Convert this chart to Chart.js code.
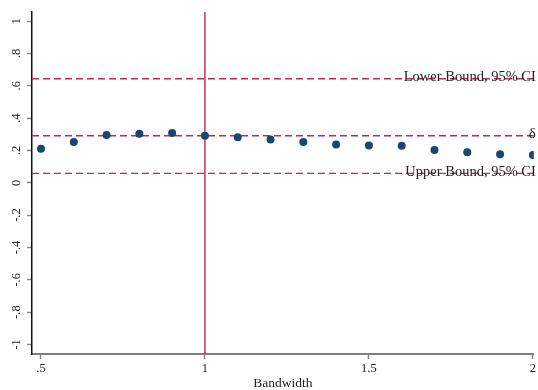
<!DOCTYPE html>
<html>
<head>
<meta charset="utf-8">
<script src="https://cdn.jsdelivr.net/npm/chart.js@4.4.0/dist/chart.umd.min.js"></script>
<style>
html,body{margin:0;padding:0;background:#fff;}
#c{display:block;}
</style>
</head>
<body>
<canvas id="c" width="538" height="390"></canvas>
<script>
const bandwidth = [0.5,0.6,0.7,0.8,0.9,1.0,1.1,1.2,1.3,1.4,1.5,1.6,1.7,1.8,1.9,2.0];
const estimate  = [0.210,0.252,0.295,0.303,0.307,0.291,0.281,0.268,0.252,0.237,0.231,0.229,0.202,0.188,0.177,0.171];
const lowerBound = 0.643;
const deltaValue = 0.291;
const upperBound = 0.058;
const cutoff = 1;
const yTicks = [-1,-0.8,-0.6,-0.4,-0.2,0,0.2,0.4,0.6,0.8,1];
const yTickLabels = ['-1','-.8','-.6','-.4','-.2','0','.2','.4','.6','.8','1'];
const xTicks = [0.5,1,1.5,2];
const xTickLabels = ['.5','1','1.5','2'];
const refLabels = [
  {value: lowerBound, text: 'Lower Bound, 95% CI', size: 14.5},
  {value: deltaValue, text: 'δ', size: 15},
  {value: upperBound, text: 'Upper Bound, 95% CI', size: 14.5}
];
const xMin = 0.4726, xMax = 2.003, yMin = -1.059, yMax = 1.056;

const RED = '#c8244f';
const NAVY = '#1a476f';
const SERIF = '"Liberation Serif", "DejaVu Serif", serif';

function hline(v){ return [{x:xMin,y:v},{x:xMax,y:v}]; }

const labelPlugin = {
  id: 'labelPlugin',
  afterDraw(chart){
    const ctx = chart.ctx;
    const ys = chart.scales.y;
    const area = chart.chartArea;
    ctx.save();
    ctx.fillStyle = '#222';
    // rotated y tick labels
    ctx.font = '12.5px ' + SERIF;
    ctx.textAlign = 'center';
    ctx.textBaseline = 'alphabetic';
    yTicks.forEach((v,i)=>{
      const py = ys.getPixelForValue(v);
      ctx.save();
      ctx.translate(20, py);
      ctx.rotate(-Math.PI/2);
      ctx.fillText(yTickLabels[i], 0, 0);
      ctx.restore();
    });
    // reference line labels
    ctx.textAlign = 'right';
    refLabels.forEach(r=>{
      ctx.font = r.size + 'px ' + SERIF;
      const py = ys.getPixelForValue(r.value);
      ctx.fillText(r.text, area.right + 2, py + 2.5);
    });
    // x axis title
    ctx.font = '13.5px ' + SERIF;
    ctx.textAlign = 'center';
    ctx.fillText('Bandwidth', (area.left + area.right)/2, 387);
    ctx.restore();
  }
};

new Chart(document.getElementById('c'), {
  type: 'scatter',
  data: {
    datasets: [
      {data: bandwidth.map((b,i)=>({x:b,y:estimate[i]})), backgroundColor: NAVY, borderColor: NAVY,
       pointRadius: 4, pointBorderWidth: 0, order: 0},
      {data: hline(lowerBound), showLine: true, borderColor: RED, borderWidth: 1.4, borderDash: [7,4], pointRadius: 0, order: 1},
      {data: hline(deltaValue), showLine: true, borderColor: RED, borderWidth: 1.4, borderDash: [7,4], pointRadius: 0, order: 1},
      {data: hline(upperBound), showLine: true, borderColor: RED, borderWidth: 1.4, borderDash: [7,4], pointRadius: 0, order: 1},
      {data: [{x:cutoff,y:yMin},{x:cutoff,y:yMax}], showLine: true, borderColor: RED, borderWidth: 1.4, pointRadius: 0, order: 1}
    ]
  },
  options: {
    responsive: false,
    animation: false,
    devicePixelRatio: 1,
    layout: {padding: {top: 12, right: 3, left: 0, bottom: 0}},
    plugins: {legend: {display: false}, tooltip: {enabled: false}},
    scales: {
      x: {
        type: 'linear', min: xMin, max: xMax,
        afterBuildTicks: s => { s.ticks = xTicks.map(v=>({value:v})); },
        afterFit: s => { s.height = 36; },
        grid: {drawOnChartArea: false, drawTicks: true, tickLength: 5, tickColor: '#888', tickWidth: 1.5},
        border: {display: true, color: '#808080', width: 2},
        ticks: {
          padding: 2, color: '#222',
          font: {family: SERIF, size: 12.5},
          callback: (v) => { const i = xTicks.indexOf(v); return i >= 0 ? xTickLabels[i] : ''; },
          maxRotation: 0, minRotation: 0, autoSkip: false
        }
      },
      y: {
        type: 'linear', min: yMin, max: yMax,
        afterBuildTicks: s => { s.ticks = yTicks.map(v=>({value:v})); },
        afterFit: s => { s.width = 32; },
        grid: {drawOnChartArea: false, drawTicks: true, tickLength: 5, tickColor: '#888', tickWidth: 1.5},
        border: {display: true, color: '#111', width: 1.5},
        ticks: {display: false}
      }
    }
  },
  plugins: [labelPlugin]
});
</script>
</body>
</html>
